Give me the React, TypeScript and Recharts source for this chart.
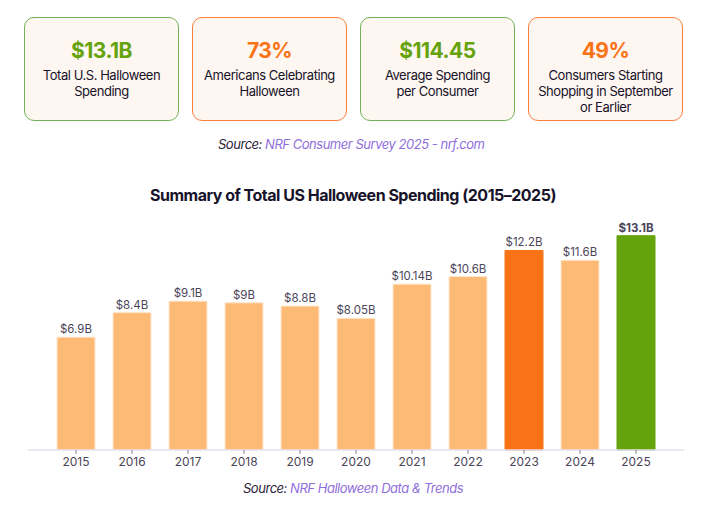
import { BarChart, Bar, XAxis, YAxis, Cell, LabelList } from 'recharts';

const years = ['2015', '2016', '2017', '2018', '2019', '2020', '2021', '2022', '2023', '2024', '2025'];
const spending = [6.9, 8.4, 9.1, 9, 8.8, 8.05, 10.14, 10.6, 12.2, 11.6, 13.1];
const spendingLabels = ['$6.9B', '$8.4B', '$9.1B', '$9B', '$8.8B', '$8.05B', '$10.14B', '$10.6B', '$12.2B', '$11.6B', '$13.1B'];

const cardValues = ['$13.1B', '73%', '$114.45', '49%'];
const cardTexts = [
  ['Total U.S. Halloween', 'Spending'],
  ['Americans Celebrating', 'Halloween'],
  ['Average Spending', 'per Consumer'],
  ['Consumers Starting', 'Shopping in September', 'or Earlier'],
];

const GREEN = '#65a30d';
const ORANGE = '#f97316';
const LIGHT = '#fdba74';
const FONT = 'Inter, sans-serif';

const chartData = years.map((year, i) => ({ year, spending: spending[i], label: spendingLabels[i] }));

function barColor(year: string) {
  if (year === '2025') return GREEN;
  if (year === '2023') return ORANGE;
  return LIGHT;
}

const BarLabel = ({ x, y, width, index }: any) => (
  <text
    x={x + width / 2}
    y={y - 4}
    textAnchor="middle"
    fontFamily={FONT}
    fontSize={11.5}
    fontWeight={years[index] === '2025' ? 700 : 400}
    fill="#4b4558"
  >
    {spendingLabels[index]}
  </text>
);

function Source({ top, left, label }: { top: number; left: number; label: string }) {
  return (
    <div style={{ position: 'absolute', top, left, right: 0, fontSize: 13, letterSpacing: -0.47, lineHeight: '18px', fontStyle: 'italic', color: '#2a2438', whiteSpace: 'nowrap' }}>
      Source: <span style={{ color: '#8f6fdc' }}>{label}</span>
    </div>
  );
}

export default function App() {
  return (
    <div style={{ position: 'absolute', top: 0, left: 0, width: 702, height: 515, background: '#fff', fontFamily: FONT, overflow: 'hidden' }}>
      {cardValues.map((value, i) => {
        const color = i % 2 === 0 ? GREEN : ORANGE;
        return (
          <div
            key={value}
            style={{
              position: 'absolute',
              left: 24 + i * 168,
              top: 17,
              width: 155,
              height: 104,
              boxSizing: 'border-box',
              border: `1px solid ${i % 2 === 0 ? '#71b356' : '#fb7f3c'}`,
              borderRadius: 10,
              background: '#fef6f0',
              textAlign: 'center',
              paddingTop: 20,
            }}
          >
            <div style={{ fontSize: 21, letterSpacing: -0.5, lineHeight: '26px', fontWeight: 700, color }}>{value}</div>
            <div style={{ marginTop: 3, fontSize: 13, letterSpacing: -0.45, lineHeight: '16px', color: '#17132a' }}>
              {cardTexts[i].map((line) => (
                <div key={line}>{line}</div>
              ))}
            </div>
          </div>
        );
      })}

      <Source top={135} left={218} label="NRF Consumer Survey 2025 - nrf.com" />

      <div style={{ position: 'absolute', top: 185, left: 0, width: 706, textAlign: 'center', fontSize: 16, letterSpacing: -0.5, lineHeight: '20px', fontWeight: 700, color: '#17132a' }}>
        Summary of Total US Halloween Spending (2015–2025)
      </div>

      <div style={{ position: 'absolute', top: 0, left: 0 }}>
        <BarChart width={702} height={515} data={chartData} margin={{ top: 221, right: 18, bottom: 35, left: 28 }}>
          <XAxis
            dataKey="year"
            height={30}
            padding={{ left: 20, right: 20 }}
            interval={0}
            axisLine={{ stroke: '#e4e0ee', strokeWidth: 1.5 }}
            tickLine={{ stroke: '#8a8599' }}
            tickSize={4}
            dy={1}
            tick={{ fontFamily: FONT, fontSize: 12, fill: '#4b4558' }}
          />
          <YAxis hide domain={[0, 14]} />
          <Bar dataKey="spending" barSize={38} isAnimationActive={false}>
            {chartData.map((d) => (
              <Cell key={d.year} fill={barColor(d.year)} stroke={barColor(d.year) === LIGHT ? '#fde6d0' : barColor(d.year)} strokeWidth={1} />
            ))}
            <LabelList dataKey="label" content={BarLabel} />
          </Bar>
        </BarChart>
      </div>

      <Source top={479} left={243} label="NRF Halloween Data & Trends" />
    </div>
  );
}
